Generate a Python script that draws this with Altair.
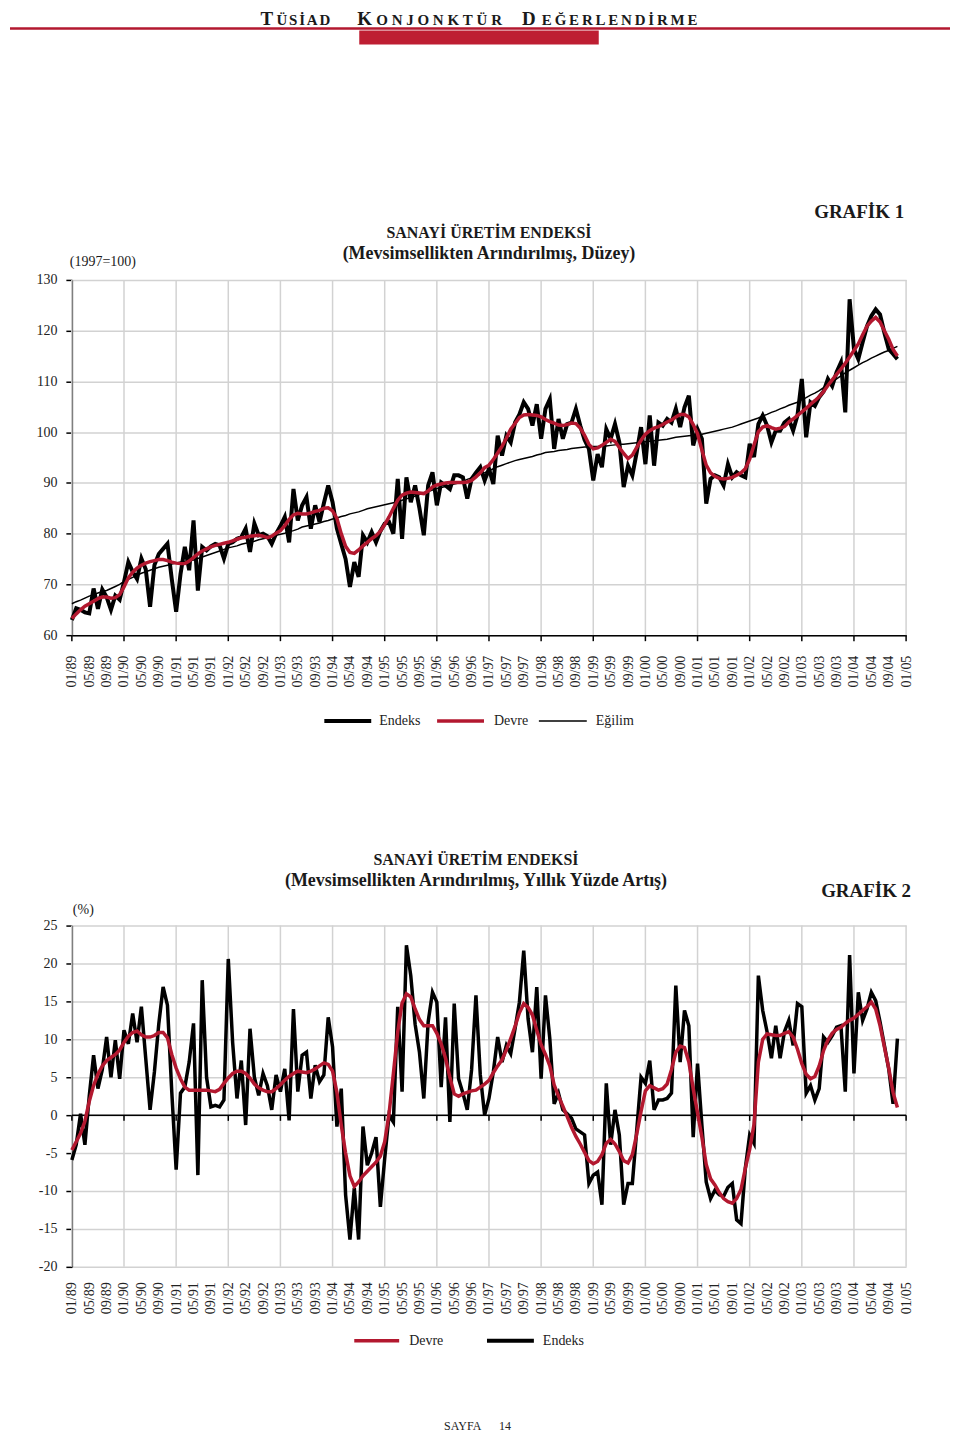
import altair as alt
import pandas as pd

SERIF = "Liberation Serif"
RED = "#b3182f"
GRID = "#d2d2d2"
INK = "#1a1a1a"

# ---------------- data (month index 0 = 01/1989) ----------------
ENDEKS = [
    63.0, 65.3, 65.0, 64.5, 64.3, 69.2, 65.2, 69.0, 67.5, 65.0, 67.8, 67.0,
    70.5, 74.4, 72.5, 71.1, 75.1, 73.0, 65.6, 73.8, 76.0, 77.0, 78.0, 71.0,
    64.6, 72.0, 77.4, 72.8, 82.6, 68.8, 77.4, 76.7, 77.5, 78.0, 77.7, 75.1,
    78.0, 78.3, 79.0, 79.3, 81.0, 76.4, 82.0, 79.7, 80.0, 79.5, 78.0, 80.0,
    81.5, 83.3, 78.3, 88.8, 82.6, 85.6, 87.2, 81.0, 85.6, 82.3, 86.0, 89.5,
    86.2, 81.0, 78.0, 75.0, 69.5, 74.4, 71.5, 79.7, 78.3, 80.3, 78.3, 80.5,
    82.0, 82.3, 80.0, 90.8, 79.0, 91.1, 86.2, 89.5, 85.0, 79.7, 89.5, 92.1,
    85.6, 90.1, 89.5, 88.8, 91.5, 91.5, 91.1, 86.9, 90.8, 92.0, 93.1, 90.5,
    92.8, 89.8, 99.3, 95.4, 99.3, 98.0, 101.9, 103.5, 105.9, 104.6, 101.3, 105.5,
    98.7, 104.6, 106.5, 96.7, 102.6, 98.7, 101.6, 101.9, 104.6, 101.3, 98.5, 96.7,
    90.5, 95.7, 93.1, 100.6, 98.7, 101.6, 98.0, 89.2, 93.4, 91.5, 96.0, 101.0,
    93.7, 103.3, 93.4, 101.9, 101.3, 102.6, 101.9, 104.6, 101.0, 104.9, 107.2, 97.4,
    100.6, 98.7, 85.9, 90.8, 91.5, 91.1, 89.5, 93.7, 91.1, 92.1, 91.5, 91.1,
    97.7, 95.1, 101.6, 103.3, 101.3, 98.0, 100.3, 100.3, 101.9, 102.6, 100.3, 103.3,
    110.5, 99.0, 105.9, 105.2, 106.9, 108.0, 110.5, 109.1, 111.8, 113.7, 103.9, 126.2,
    116.4, 114.4, 117.7, 120.9, 122.9, 124.2, 123.2, 119.6, 116.4, 115.4, 114.4,
]

DEVRE = [
    63.3, 64.2, 65.0, 65.7, 66.2, 66.7, 67.2, 67.5, 67.5, 67.3, 67.4, 68.0,
    69.5, 71.3, 72.4, 73.2, 73.8, 74.2, 74.5, 74.7, 74.9, 74.9, 74.7, 74.4,
    74.2, 74.1, 74.1, 74.6, 75.3, 76.0, 76.6, 77.0, 77.4, 77.7, 77.9, 78.1,
    78.3, 78.6, 78.9, 79.2, 79.3, 79.5, 79.6, 79.7, 79.5, 79.2, 79.5, 80.1,
    80.6, 81.6, 82.8, 83.7, 84.0, 83.9, 83.9, 84.1, 84.4, 84.6, 85.0, 85.1,
    84.5, 83.0, 80.0, 77.5, 76.3, 76.1, 76.8, 77.6, 78.3, 79.0, 79.6, 80.5,
    81.8, 83.3, 85.0, 86.6, 87.6, 88.0, 88.2, 88.1, 88.0, 87.9, 88.4, 89.2,
    89.6, 89.8, 90.0, 90.1, 90.1, 90.1, 90.1, 90.2, 90.5, 91.2, 92.0, 93.0,
    93.5, 94.6, 95.9, 97.2, 98.8, 100.6, 101.7, 102.9, 103.4, 103.5, 103.4, 103.3,
    103.0, 102.5, 102.1, 101.8, 101.4, 101.3, 101.5, 101.8, 101.7, 100.8, 99.4, 97.6,
    96.7, 96.9, 97.4, 98.0, 98.6, 98.2, 97.0, 95.8, 94.8, 95.5, 97.0, 98.4,
    99.6, 100.3, 100.8, 101.1, 101.5, 102.0, 102.4, 103.0, 103.5, 103.5, 103.0, 101.5,
    99.7, 96.5, 93.5, 92.0, 91.3, 90.9, 90.8, 90.9, 91.1, 91.5, 92.0, 92.8,
    94.7, 97.5, 100.1, 101.0, 101.3, 100.9, 100.6, 100.8, 101.1, 102.0, 102.6, 103.3,
    104.0, 104.7, 105.5, 106.2, 107.0, 108.0, 109.2, 110.3, 111.4, 112.4, 113.6, 114.8,
    116.1, 117.4, 119.2, 120.9, 121.9, 122.6, 121.7, 120.0, 118.3, 116.3, 115.0,
]

EGILIM = [
    66.2, 66.6, 66.9, 67.3, 67.7, 68.0, 68.3, 68.6, 68.8, 69.2, 69.6, 70.0,
    70.6, 71.0, 71.4, 71.8, 72.2, 72.5, 72.8, 73.1, 73.4, 73.6, 73.8, 74.0,
    74.2, 74.4, 74.5, 74.6, 74.8, 75.1, 75.4, 75.7, 76.0, 76.3, 76.6, 76.9,
    77.2, 77.4, 77.6, 77.9, 78.1, 78.3, 78.5, 78.8, 79.0, 79.2, 79.4, 79.7,
    79.9, 80.1, 80.4, 80.6, 80.9, 81.3, 81.5, 81.7, 81.9, 82.1, 82.4, 82.6,
    82.9, 83.1, 83.4, 83.6, 83.9, 84.1, 84.3, 84.6, 84.9, 85.1, 85.3, 85.5,
    85.7, 85.9, 86.1, 86.3, 86.6, 86.9, 87.1, 87.4, 87.7, 88.0, 88.3, 88.6,
    88.9, 89.1, 89.3, 89.6, 89.8, 90.0, 90.3, 90.7, 91.0, 91.3, 91.7, 92.0,
    92.4, 92.8, 93.2, 93.5, 93.8, 94.1, 94.4, 94.6, 94.8, 95.0, 95.2, 95.5,
    95.7, 96.0, 96.1, 96.2, 96.4, 96.5, 96.6, 96.8, 96.9, 97.0, 97.1, 97.1,
    97.2, 97.2, 97.3, 97.3, 97.4, 97.5, 97.6, 97.6, 97.7, 97.8, 97.9, 98.0,
    98.1, 98.2, 98.3, 98.4, 98.5, 98.6, 98.8, 99.0, 99.1, 99.2, 99.3, 99.4,
    99.5, 99.6, 99.8, 100.0, 100.2, 100.4, 100.6, 100.8, 101.0, 101.3, 101.6, 101.9,
    102.2, 102.5, 102.8, 103.2, 103.5, 103.9, 104.2, 104.6, 104.9, 105.3, 105.6, 105.9,
    106.4, 106.8, 107.3, 107.7, 108.2, 108.8, 109.3, 109.9, 110.5, 111.1, 111.7, 112.2,
    112.7, 113.2, 113.7, 114.1, 114.6, 115.0, 115.4, 115.8, 116.1, 116.5, 116.9,
]

ENDEKS_YILLIK = [
    -5.9, -3.9, 0.2, -3.9, 2.5, 7.9, 3.5, 6.0, 10.3, 5.0, 9.9, 4.8,
    11.2, 9.4, 13.4, 9.6, 14.3, 7.5, 0.7, 5.7, 12.0, 16.9, 14.5, 3.0,
    -7.2, 2.9, 3.7, 7.0, 12.1, -7.9, 17.8, 5.0, 1.1, 1.3, 1.1, 2.0,
    20.6, 9.6, 2.2, 7.2, -1.3, 11.4, 5.0, 2.6, 5.5, 3.9, 0.7, 5.3,
    3.1, 6.1, -0.7, 14.0, 3.1, 7.9, 8.3, 2.2, 6.6, 4.4, 5.3, 12.9,
    9.0, -1.5, 3.5, -10.5, -16.4, -9.6, -16.4, -1.5, -6.6, -5.0, -2.9, -12.1,
    -5.7, 0.0, -0.9, 14.3, 3.1, 22.4, 18.4, 12.0, 8.3, 2.2, 12.3, 16.2,
    14.9, 3.7, 12.9, -0.9, 14.7, 4.8, 2.9, 0.7, 6.0, 15.8, 5.3, 0.0,
    2.2, 5.7, 10.3, 7.0, 9.2, 8.1, 11.4, 14.9, 21.7, 12.7, 8.3, 16.9,
    4.8, 15.8, 10.1, 1.5, 2.9, 0.7, 0.2, -0.4, -1.8, -2.2, -2.6, -9.0,
    -7.9, -7.5, -11.8, 4.2, -3.9, 0.7, -2.6, -11.8, -9.0, -9.0, -2.0, 5.0,
    4.2, 7.2, 0.7, 2.0, 2.0, 2.2, 2.9, 17.1, 7.0, 13.8, 11.8, -2.9,
    6.8, -1.3, -8.8, -11.0, -9.9, -10.5, -10.7, -9.5, -9.0, -13.8, -14.3, -7.0,
    -2.6, -3.7, 18.4, 13.8, 11.0, 7.5, 11.8, 7.5, 11.0, 12.5, 9.2, 14.7,
    14.3, 2.9, 3.9, 2.0, 3.5, 10.3, 9.6, 10.5, 11.6, 11.8, 3.1, 21.1,
    5.5, 16.2, 12.5, 14.0, 16.2, 15.1, 12.3, 9.2, 6.1, 1.5, 10.1,
]

DEVRE_YILLIK = [
    -4.6, -3.5, -2.4, -0.8, 1.8, 3.9, 5.4, 6.5, 7.2, 7.6, 8.0, 8.6,
    9.6, 10.4, 10.9, 11.1, 10.6, 10.3, 10.3, 10.5, 10.9, 10.9, 10.2, 8.0,
    6.2, 4.8, 3.7, 3.3, 3.3, 3.3, 3.3, 3.3, 3.2, 3.1, 3.4, 4.2,
    4.9, 5.5, 5.8, 5.8, 5.5, 4.9, 4.1, 3.6, 3.3, 3.1, 3.1, 3.5,
    4.0, 4.6, 5.1, 5.5, 5.8, 5.7, 5.6, 5.8, 6.1, 6.5, 6.9, 6.7,
    5.8, 3.0, -1.3, -5.0, -8.0, -9.4, -8.8, -8.0, -7.4, -6.8, -6.2, -5.4,
    -3.5, 0.2, 5.5, 11.0, 14.8, 16.0, 15.6, 14.0, 12.6, 11.8, 11.8, 11.8,
    10.8, 9.4, 7.5, 5.0, 2.8, 2.5, 2.8, 3.0, 3.2, 3.3, 3.7, 4.1,
    4.6, 5.6, 6.5, 7.3, 8.6, 10.1, 11.7, 13.5, 14.7, 14.2, 13.2, 11.2,
    9.3, 8.0, 6.5, 4.0, 2.5, 1.2, -0.2, -1.6, -2.8, -3.8, -4.9, -6.0,
    -6.4, -6.1, -5.2, -3.7, -3.2, -3.8, -4.8, -6.0, -6.3, -5.2, -2.5, 0.5,
    3.2, 3.9, 3.6, 3.3, 3.5, 4.1, 6.0, 8.3, 9.1, 8.9, 7.0, 3.5,
    0.3, -2.9, -6.5, -8.4, -9.2, -10.2, -11.0, -11.4, -11.6, -11.0, -9.8, -7.0,
    -4.5, -1.2, 7.0, 10.0, 10.7, 10.6, 10.5, 10.5, 10.8, 11.0, 10.3, 8.7,
    6.8, 5.4, 4.8, 5.1, 6.5, 8.5, 9.9, 10.8, 11.3, 11.6, 12.1, 12.5,
    12.8, 13.3, 13.8, 14.3, 14.9, 14.0, 11.8, 9.0, 6.2, 3.0, 1.0,
]

TICK_LABELS = [
    "01/89", "05/89", "09/89", "01/90", "05/90", "09/90", "01/91", "05/91", "09/91",
    "01/92", "05/92", "09/92", "01/93", "05/93", "09/93", "01/94", "05/94", "09/94",
    "01/95", "05/95", "09/95", "01/96", "05/96", "09/96", "01/97", "05/97", "09/97",
    "01/98", "05/98", "09/98", "01/99", "05/99", "09/99", "01/00", "05/00", "09/00",
    "01/01", "05/01", "09/01", "01/02", "05/02", "09/02", "01/03", "05/03", "09/03",
    "01/04", "05/04", "09/04", "01/05",
]
TICK_POS = list(range(0, 4 * len(TICK_LABELS), 4))
YEAR_POS = list(range(0, 193, 12))

W, H1, H2 = 836, 356, 342
one = pd.DataFrame({"k": [0]})

label_expr = "[" + ",".join("'%s'" % t for t in TICK_LABELS) + "][round(datum.value / 4)]"


def xenc(domain_line, pad):
    return alt.X(
        "m:Q",
        scale=alt.Scale(domain=[0, 192], nice=False, zero=False),
        axis=alt.Axis(values=TICK_POS, labelExpr=label_expr, labelAngle=-90,
                      labelAlign="right", labelBaseline="middle", labelPadding=pad,
                      labelFont=SERIF, labelFontSize=14, labelColor="#222",
                      labelOverlap=False, labelFlush=False, ticks=False, tickSize=0,
                      grid=False, domain=domain_line, domainColor="black",
                      domainWidth=1.5, title=None),
    )


def yenc(lo, hi, step):
    return alt.Y(
        "v:Q",
        scale=alt.Scale(domain=[lo, hi], nice=False, zero=False),
        axis=alt.Axis(values=list(range(lo, hi + 1, step)), labelExpr="datum.value + ''",
                      grid=True, gridColor=GRID, gridWidth=1.5, domainColor="black",
                      domainWidth=1.5, tickColor="black", tickSize=6, tickWidth=1.5,
                      labelPadding=9, labelFont=SERIF, labelFontSize=14,
                      labelColor="#222", title=None),
    )


def series(arr, color, width, X, Y):
    df = pd.DataFrame({"m": list(range(len(arr))), "v": arr})
    return alt.Chart(df).mark_line(color=color, strokeWidth=width).encode(x=X, y=Y)


def text(t, x, y, size=14, weight="normal", align="left", baseline="alphabetic", color=INK):
    return alt.Chart(one).mark_text(text=t, font=SERIF, fontSize=size, fontWeight=weight,
                                    align=align, baseline=baseline, color=color).encode(
        x=alt.value(x), y=alt.value(y))


def hline(x1, x2, y, color, width):
    return alt.Chart(one).mark_rule(color=color, strokeWidth=width).encode(
        x=alt.value(x1), x2=alt.value(x2), y=alt.value(y))


def box(x1, x2, y1, y2, color):
    return alt.Chart(one).mark_rect(color=color).encode(
        x=alt.value(x1), x2=alt.value(x2), y=alt.value(y1), y2=alt.value(y2))


years_df = pd.DataFrame({"m": YEAR_POS})

# ---------------- chart 1 ----------------
X1 = xenc(True, 20)
Y1 = yenc(60, 130, 10)

# page coordinates -> plot group coordinates (plot 1 top-left at page 72,279)
OX, OY1 = 72, 279

header = [box(-64, -63, -271, -270, "white"),
          hline(-62, 880, 27 - OY1, RED, 2.5),
          box(360 - OX, 600 - OX, 29 - OY1, 43 - OY1, "#be1e32")]
# approximate em widths of bold serif capitals, for letter-spaced small caps
EM = {"A": 0.722, "D": 0.722, "E": 0.667, "Ğ": 0.778, "İ": 0.389, "J": 0.5, "K": 0.778,
      "L": 0.667, "M": 0.944, "N": 0.722, "O": 0.778, "R": 0.722, "S": 0.556, "T": 0.667,
      "Ü": 0.722}
SMALL = 15
HEADER_WORDS = [("T", "ÜSİAD", 261, 277, 331), ("K", "ONJONKTÜR", 358, 377, 503),
                ("D", "EĞERLENDİRME", 523, 543, 699)]
hb = 24 - OY1
for big, small, bx, s, e in HEADER_WORDS:
    header.append(text(big, bx - OX, hb, size=19, weight="bold"))
    widths = [EM[c] * SMALL for c in small]
    gap = ((e - s) - sum(widths)) / (len(small) - 1)
    pos = s
    for ch, wdt in zip(small, widths):
        header.append(text(ch, pos - OX, hb, size=SMALL, weight="bold"))
        pos += wdt + gap

ticks1 = alt.Chart(years_df).mark_rule(color="black", strokeWidth=1.5).encode(
    x=X1, y=alt.value(H1), y2=alt.value(H1 + 6))

layers1 = [
    alt.Chart(years_df).mark_rule(color=GRID, strokeWidth=1.5).encode(x=X1),
    series(ENDEKS, "black", 4, X1, Y1),
    series(EGILIM, "black", 1.5, X1, Y1),
    series(DEVRE, RED, 3.5, X1, Y1),
    ticks1,
    text("GRAFİK 1", 906 - OX, 217 - OY1, size=19, weight="bold", align="right"),
    text("SANAYİ ÜRETİM ENDEKSİ", 490 - OX, 237 - OY1, size=16, weight="bold", align="center"),
    text("(Mevsimsellikten Arındırılmış, Düzey)", 490 - OX, 258 - OY1, size=18, weight="bold",
         align="center"),
    text("(1997=100)", 70 - OX, 265 - OY1, size=14),
    hline(325 - OX, 372 - OX, 721 - OY1, "black", 4),
    text("Endeks", 380 - OX, 721 - OY1, size=14, baseline="middle", color="#222"),
    hline(438 - OX, 485 - OX, 721 - OY1, RED, 3.5),
    text("Devre", 495 - OX, 721 - OY1, size=14, baseline="middle", color="#222"),
    hline(540 - OX, 588 - OX, 721 - OY1, "black", 1.5),
    text("Eğilim", 597 - OX, 721 - OY1, size=14, baseline="middle", color="#222"),
] + header

c1 = alt.layer(*layers1).properties(width=W, height=H1)

# ---------------- chart 2 ----------------
X2 = xenc(False, 15)
Y2 = yenc(-20, 25, 5)
OY2 = 926

zero_df = pd.DataFrame({"v": [0]})
zt_df = pd.DataFrame({"m": YEAR_POS, "v": [0] * len(YEAR_POS), "v2": [-0.75] * len(YEAR_POS)})

layers2 = [
    alt.Chart(years_df).mark_rule(color=GRID, strokeWidth=1.5).encode(x=X2),
    alt.Chart(zero_df).mark_rule(color="black", strokeWidth=1.5).encode(y=Y2),
    alt.Chart(zt_df).mark_rule(color="black", strokeWidth=1.5).encode(
        x=X2, y=Y2, y2=alt.Y2("v2:Q")),
    series(ENDEKS_YILLIK, "black", 3.5, X2, Y2),
    series(DEVRE_YILLIK, RED, 3.5, X2, Y2),
    text("GRAFİK 2", 913 - OX, 897 - OY2, size=19, weight="bold", align="right"),
    text("SANAYİ ÜRETİM ENDEKSİ", 477 - OX, 865 - OY2, size=16, weight="bold", align="center"),
    text("(Mevsimsellikten Arındırılmış, Yıllık Yüzde Artış)", 477 - OX, 886 - OY2, size=18,
         weight="bold", align="center"),
    text("(%)", 73 - OX, 914 - OY2, size=14),
    hline(355 - OX, 400 - OX, 1342 - OY2, RED, 3.5),
    text("Devre", 410 - OX, 1342 - OY2, size=14, baseline="middle", color="#222"),
    hline(488 - OX, 535 - OX, 1342 - OY2, "black", 4),
    text("Endeks", 544 - OX, 1342 - OY2, size=14, baseline="middle", color="#222"),
    text("SAYFA", 445 - OX, 1428 - OY2, size=12, baseline="middle", color="#222"),
    text("14", 500 - OX, 1428 - OY2, size=12, baseline="middle", color="#222"),
]

c2 = alt.layer(*layers2).properties(width=W, height=H2)

chart = (
    alt.vconcat(c1, c2, spacing=OY2 - OY1 - H1, bounds="flush")
    .resolve_scale(x="independent", y="independent")
    .properties(padding=0)
    .configure_view(stroke=None)
)

chart.save("out.html", embed_options={"renderer": "svg", "actions": False})
